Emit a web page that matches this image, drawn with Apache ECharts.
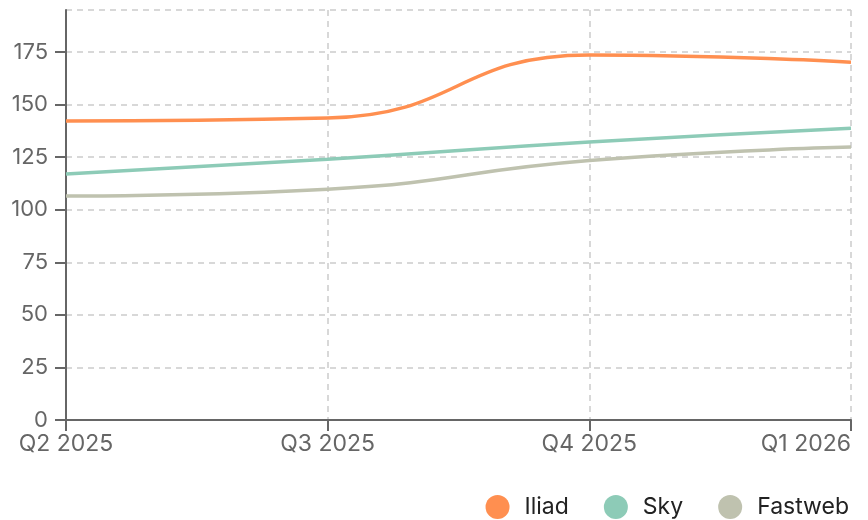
<!DOCTYPE html>
<html>
<head>
<meta charset="utf-8">
<script src="https://cdn.jsdelivr.net/npm/echarts@6/dist/echarts.min.js"></script>
<style>
  html, body { margin: 0; padding: 0; background: #fff; }
  #chart { width: 868px; height: 520px; }
</style>
</head>
<body>
<div id="chart"></div>
<script>
const quarters = ['Q2 2025', 'Q3 2025', 'Q4 2025', 'Q1 2026']
const iliad = [142.2, 143.6, 173.6, 170.2]
const sky = [117.0, 124.0, 132.2, 138.8]
const fastweb = [106.5, 109.8, 123.4, 129.8]

const chart = echarts.init(document.getElementById('chart'))
const dashed = { show: true, lineStyle: { color: '#cccccc', type: [6, 5], width: 1.5 } }

chart.setOption({
  textStyle: { fontFamily: 'Inter' },
  color: ['#FF8F50', '#8DCBB7', '#BFC2AF'],
  grid: { left: 66, right: 17, top: 10, bottom: 100 },
  legend: {
    bottom: -4,
    right: 14,
    icon: 'circle',
    itemWidth: 44,
    itemHeight: 24,
    itemGap: 35,
    textStyle: { fontSize: 23, color: '#222' },
    data: ['Iliad', 'Sky', 'Fastweb']
  },
  xAxis: {
    type: 'category',
    boundaryGap: false,
    data: quarters,
    axisLine: { lineStyle: { color: '#666', width: 2 } },
    axisTick: { show: true, length: 11, lineStyle: { color: '#666', width: 2 } },
    axisLabel: { fontSize: 23, color: '#666', margin: 13,
      alignMinLabel: 'center', alignMaxLabel: 'right' },
    splitLine: dashed
  },
  yAxis: {
    type: 'value',
    min: 0,
    max: 195,
    interval: 25,
    axisLine: { show: true, lineStyle: { color: '#666', width: 2 } },
    axisTick: { show: true, length: 11, lineStyle: { color: '#666', width: 2 } },
    axisLabel: { fontSize: 22, color: '#666', margin: 18, showMaxLabel: false },
    splitLine: dashed
  },
  series: [
    { name: 'Iliad', type: 'line', smooth: true, showSymbol: false, data: iliad, lineStyle: { width: 3.5 } },
    { name: 'Sky', type: 'line', smooth: true, showSymbol: false, data: sky, lineStyle: { width: 3.5 } },
    { name: 'Fastweb', type: 'line', smooth: true, showSymbol: false, data: fastweb, lineStyle: { width: 3.5 } }
  ]
})
</script>
</body>
</html>
